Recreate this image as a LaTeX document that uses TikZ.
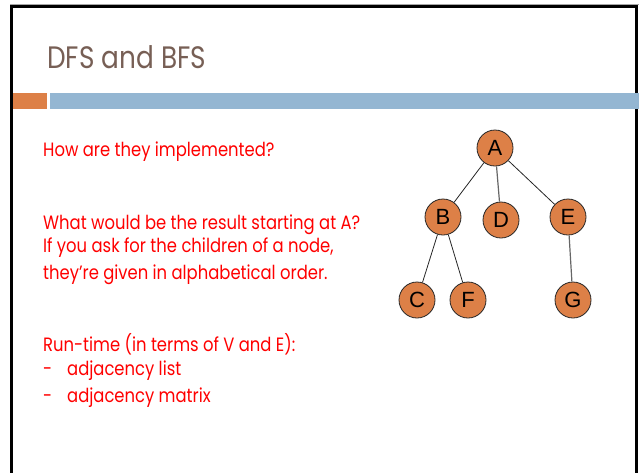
\documentclass[tikz,border=0pt]{standalone}
\usepackage{fontspec}
\setmainfont{Poppins}[FakeStretch=0.85]
\newfontfamily\nodefont{Liberation Sans}
\definecolor{titlebrown}{HTML}{775F55}
\definecolor{accentorange}{HTML}{DD8047}
\definecolor{accentblue}{HTML}{94B6D2}
\definecolor{bodyred}{HTML}{FF0000}
\begin{document}
\begin{tikzpicture}[x=1pt,y=-1pt,
  bodytext/.style={anchor=base west, inner sep=0pt, text=bodyred, font=\fontsize{19.3}{23}\selectfont},
  vertex/.style={circle, draw=black!85, line width=0.8pt, fill=accentorange,
    minimum size=36pt, inner sep=0pt, font=\nodefont\fontsize{22}{22}\selectfont},
  edge/.style={draw=black!85, line width=0.8pt}]
  \useasboundingbox (0,0) rectangle (639,472);
  % slide frame
  \draw[gray!70, line width=1pt] (10,4.5) -- (639,4.5);
  \draw[black, line width=3pt] (11.5,490) -- (11.5,6) -- (636.5,6) -- (636.5,490);
  % title
  \node[anchor=base west, inner sep=0pt, text=titlebrown,
        font=\fontsize{31}{38}\selectfont] (title) at (47,68) {DFS and BFS};
  % accent bars
  \fill[accentorange] (13,93) rectangle (47,109);
  \fill[accentblue] (50,93) rectangle (639,109);
  % body text
  \node[bodytext] (q1) at (43,156) {How are they implemented?};
  \node[bodytext] (q2) at (43,229) {What would be the result starting at A?};
  \node[bodytext] (q3) at (43,252) {If you ask for the children of a node,};
  \node[bodytext] (q4) at (43,279) {they’re given in alphabetical order.};
  \node[bodytext] (q5) at (43,351) {Run-time (in terms of V and E):};
  \node[bodytext] (d1) at (43,375) {-};
  \node[bodytext] (l1) at (67,375) {adjacency list};
  \node[bodytext] (d2) at (43,402) {-};
  \node[bodytext] (l2) at (67,402) {adjacency matrix};
  % tree
  \node[vertex] (A) at (495,148) {A};
  \node[vertex] (B) at (443,217) {B};
  \node[vertex] (D) at (501,220) {D};
  \node[vertex] (E) at (568,217) {E};
  \node[vertex] (C) at (417,300) {C};
  \node[vertex] (F) at (468,300) {F};
  \node[vertex] (G) at (573,300) {G};
  \draw[edge] (A) -- (B);
  \draw[edge, draw=black!60, line width=1.2pt] (A) -- (D);
  \draw[edge] (A) -- (E);
  \draw[edge] (B) -- (C);
  \draw[edge] (B) -- (F);
  \draw[edge, draw=black!60, line width=1.2pt] (E) -- (G);
\end{tikzpicture}
\end{document}
